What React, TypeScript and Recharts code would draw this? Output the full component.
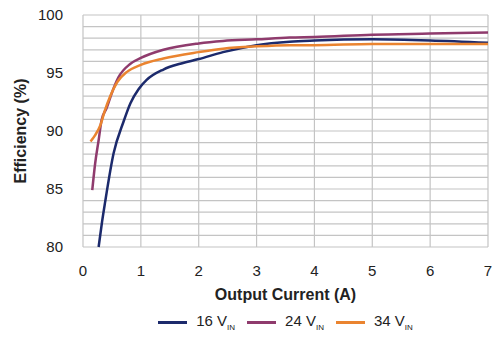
import React from 'react';
import {CartesianGrid, Label, Legend, Line, LineChart, XAxis, YAxis} from 'recharts';

const xTicks = [0, 1, 2, 3, 4, 5, 6, 7];
const yTicks = [80, 81, 82, 83, 84, 85, 86, 87, 88, 89, 90, 91, 92, 93, 94, 95, 96, 97, 98, 99, 100];

const vin16 = [
    {x: 0.27, y: 80.0},
    {x: 0.33, y: 82.2},
    {x: 0.38, y: 83.8},
    {x: 0.53, y: 88.1},
    {x: 0.7, y: 90.8},
    {x: 0.82, y: 92.4},
    {x: 0.96, y: 93.6},
    {x: 1.1, y: 94.4},
    {x: 1.39, y: 95.3},
    {x: 1.68, y: 95.8},
    {x: 2.0, y: 96.2},
    {x: 2.42, y: 96.8},
    {x: 3.0, y: 97.4},
    {x: 3.57, y: 97.7},
    {x: 4.0, y: 97.8},
    {x: 5.0, y: 97.9},
    {x: 6.0, y: 97.8},
    {x: 7.0, y: 97.6},
];

const vin24 = [
    {x: 0.16, y: 84.9},
    {x: 0.21, y: 87.2},
    {x: 0.27, y: 89.2},
    {x: 0.32, y: 90.9},
    {x: 0.41, y: 92.0},
    {x: 0.5, y: 93.3},
    {x: 0.61, y: 94.6},
    {x: 0.82, y: 95.8},
    {x: 1.0, y: 96.3},
    {x: 1.39, y: 97.0},
    {x: 2.0, y: 97.55},
    {x: 2.42, y: 97.76},
    {x: 3.0, y: 97.9},
    {x: 3.57, y: 98.05},
    {x: 4.0, y: 98.1},
    {x: 5.0, y: 98.3},
    {x: 6.0, y: 98.4},
    {x: 7.0, y: 98.5},
];

const vin34 = [
    {x: 0.13, y: 89.1},
    {x: 0.21, y: 89.65},
    {x: 0.3, y: 90.5},
    {x: 0.38, y: 91.8},
    {x: 0.47, y: 93.0},
    {x: 0.59, y: 94.2},
    {x: 0.76, y: 95.1},
    {x: 1.0, y: 95.7},
    {x: 1.39, y: 96.25},
    {x: 2.0, y: 96.8},
    {x: 2.42, y: 97.1},
    {x: 3.0, y: 97.3},
    {x: 3.57, y: 97.4},
    {x: 4.0, y: 97.4},
    {x: 5.0, y: 97.5},
    {x: 6.0, y: 97.5},
    {x: 7.0, y: 97.5},
];

const series = [
    {name: '16', data: vin16, color: '#1c2a6c'},
    {name: '24', data: vin24, color: '#8f3b6d'},
    {name: '34', data: vin34, color: '#ea8430'},
];

const font = 'Liberation Sans, Arial, sans-serif';

const LegendContent = (props: any) => {
    const items = props.payload || [];
    return (
        <div style={{display: 'flex', justifyContent: 'center', alignItems: 'center', fontFamily: font, fontSize: 15, color: '#222', height: 28}}>
            {items.map((item: any) => (
                <div key={item.value} style={{display: 'flex', alignItems: 'center', marginRight: 12}}>
                    <div style={{width: 29, height: 3, background: item.color, marginRight: 9}} />
                    <span>
                        {item.value} V<sub style={{fontSize: 8}}>IN</sub>
                    </span>
                </div>
            ))}
        </div>
    );
};

const App = () => {
    return (
        <div style={{position: 'absolute', left: 0, top: 0, background: '#fff'}}>
            <LineChart width={500} height={339} margin={{top: 15, right: 12, bottom: 3, left: 5}}>
                <CartesianGrid stroke='#c4c4c4' strokeWidth={1.2} />
                <XAxis
                    type='number'
                    dataKey='x'
                    domain={[0, 7]}
                    ticks={xTicks}
                    tickLine={false}
                    axisLine={false}
                    tickMargin={12}
                    height={61}
                    tick={{fill: '#222', fontSize: 15, fontFamily: font}}
                >
                    <Label value='Output Current (A)' position='insideBottom' offset={8} style={{fontFamily: font, fontSize: 16, fontWeight: 'bold', fill: '#222'}} />
                </XAxis>
                <YAxis
                    type='number'
                    domain={[80, 100]}
                    ticks={yTicks}
                    interval={0}
                    tickLine={false}
                    axisLine={false}
                    tickMargin={14}
                    width={78}
                    tickFormatter={(v) => (v % 5 === 0 ? String(v) : '')}
                    tick={{fill: '#222', fontSize: 15, fontFamily: font}}
                >
                    <Label value='Efficiency (%)' angle={-90} position='insideLeft' offset={15} style={{textAnchor: 'middle', fontFamily: font, fontSize: 16, fontWeight: 'bold', fill: '#222'}} />
                </YAxis>
                <Legend verticalAlign='bottom' content={<LegendContent />} wrapperStyle={{left: 83, width: 417}} />
                {series.map((s) => (
                    <Line
                        key={s.name}
                        data={s.data}
                        dataKey='y'
                        name={s.name}
                        type='monotone'
                        stroke={s.color}
                        strokeWidth={2.5}
                        dot={false}
                        isAnimationActive={false}
                    />
                ))}
            </LineChart>
        </div>
    );
};

export default App;
